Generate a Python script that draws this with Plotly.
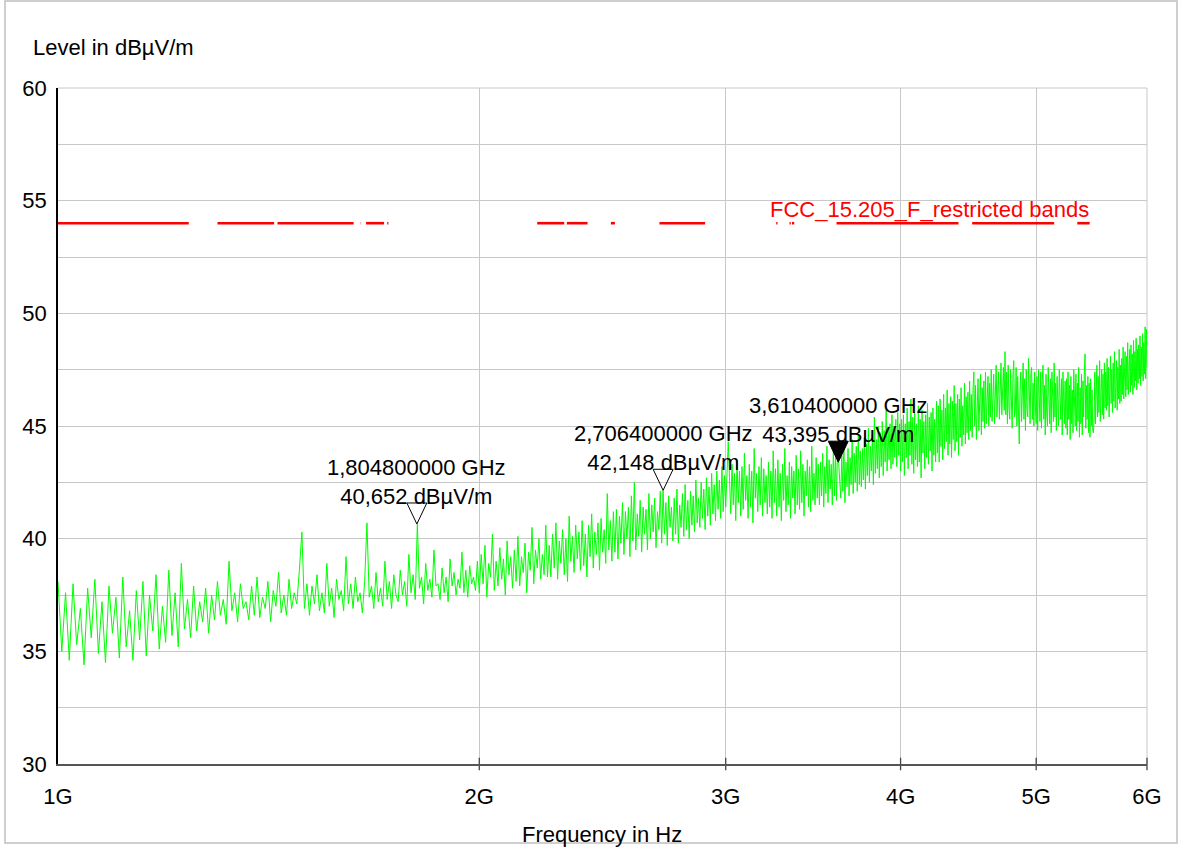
import numpy as np
import plotly.graph_objects as go

# ---------------- data ----------------
# measured level (dBµV/m), linear sweep 1 GHz .. 6 GHz (6.25 MHz step)
level = [
 38.1, 35.0, 37.6, 34.6, 38.0, 35.3, 36.9, 34.4, 37.8, 35.6, 38.2, 34.9, 37.2, 34.5, 37.9, 35.8, 37.4, 34.7, 38.3, 35.2,
 36.8, 34.6, 37.7, 35.5, 38.1, 34.8, 37.5, 35.9, 38.4, 35.1, 37.0, 35.4, 38.6, 35.7, 37.6, 35.2, 38.9, 36.0, 37.3, 35.6,
 37.9, 35.9, 37.2, 36.3, 37.8, 35.8, 37.5, 36.4, 38.1, 36.6, 37.3, 36.2, 39.0, 36.8, 37.6, 36.3, 38.0, 36.9, 37.2, 36.4,
 37.9, 36.6, 38.3, 36.5, 37.4, 36.9, 38.1, 36.3, 37.7, 37.0, 38.5, 36.7, 37.5, 36.6, 38.2, 36.9, 37.6, 37.1, 38.6, 40.3,
 36.9, 38.0, 36.6, 37.9, 37.1, 38.4, 36.8, 37.6, 36.7, 38.9, 37.0, 37.8, 36.5, 38.2, 37.3, 37.7, 36.8, 39.2, 37.1, 38.0,
 36.9, 38.3, 37.2, 37.6, 36.7, 38.1, 40.7, 37.4, 37.9, 36.9, 38.5, 37.2, 37.8, 37.0, 39.0, 37.3, 38.1, 36.9, 38.4, 37.5,
 37.2, 38.6, 37.5, 38.1, 37.0, 39.3, 37.6, 38.4, 37.3, 40.652, 37.8, 38.3, 37.1, 38.9, 37.7, 38.2, 37.4, 39.5, 37.9, 38.0,
 37.3, 38.7, 37.6, 38.3, 37.2, 39.1, 37.9, 38.5, 37.5, 38.2, 37.8, 39.4, 37.6, 38.6, 37.4, 38.8, 38.0, 38.3, 37.7, 39.0,
 37.6, 39.3, 38.0, 39.7, 37.4, 38.9, 38.3, 40.2, 37.7, 39.0, 37.9, 39.6, 38.2, 39.1, 37.5, 39.9, 38.4, 39.2, 37.8, 39.5,
 38.1, 40.1, 37.9, 39.2, 38.5, 39.8, 37.6, 39.4, 38.6, 40.5, 38.0, 39.5, 38.7, 40.0, 38.2, 39.3, 38.4, 40.6, 38.3, 39.7,
 38.3, 40.2, 38.7, 40.7, 38.2, 39.9, 38.9, 40.4, 38.4, 40.0, 38.1, 41.0, 39.0, 40.1, 38.5, 40.6, 39.1, 40.3, 38.6, 40.8,
 38.8, 40.2, 38.3, 40.6, 39.2, 41.1, 38.7, 40.3, 39.3, 40.7, 38.6, 40.9, 39.4, 40.4, 38.9, 42.0, 39.5, 40.8, 39.0, 41.2,
 39.4, 41.3, 39.1, 41.0, 39.8, 41.6, 39.3, 41.2, 40.0, 41.4, 39.2, 41.9, 39.9, 42.5, 39.5, 41.1, 40.1, 41.7, 39.4, 41.4,
 40.2, 41.3, 39.5, 42.0, 40.0, 41.5, 40.3, 41.8, 39.6, 41.2, 40.4, 42.1, 39.8, 42.148, 40.2, 41.6, 39.7, 41.9, 40.5, 41.4,
 39.9, 41.8, 40.2, 42.2, 39.8, 41.5, 40.5, 42.0, 40.1, 42.4, 40.4, 41.7, 40.0, 42.1, 40.6, 41.9, 40.3, 42.6, 40.7, 41.8,
 40.5, 42.5, 40.9, 42.2, 40.4, 42.7, 41.0, 42.3, 40.6, 42.9, 41.1, 42.4, 40.8, 43.0, 41.3, 42.6, 40.9, 43.2, 41.2, 42.8,
 41.4, 43.1, 44.3, 42.7, 41.1, 43.3, 41.5, 42.9, 40.8, 43.5, 41.6, 43.0, 41.0, 43.2, 41.3, 43.8, 41.7, 42.8, 40.9, 43.3,
 41.4, 43.0, 40.7, 44.0, 41.8, 42.9, 41.2, 43.2, 41.5, 43.6, 41.0, 43.1, 41.6, 42.8, 41.1, 43.4, 41.4, 43.0, 40.9, 43.9,
 41.6, 43.1, 41.0, 43.5, 41.4, 42.9, 40.8, 43.3, 41.7, 44.0, 41.2, 42.8, 41.5, 43.4, 40.9, 43.2, 41.8, 43.0, 41.1, 43.7,
 41.5, 43.1, 41.3, 43.9, 41.6, 43.3, 41.0, 43.0, 41.9, 43.5, 41.4, 43.2, 41.2, 44.1, 41.7, 42.9, 41.5, 43.6, 41.8, 43.3,
 41.5, 43.4, 41.9, 43.8, 41.4, 43.2, 42.0, 44.1, 41.6, 43.5, 42.2, 43.3, 41.5, 43.9, 41.9, 43.6, 41.7, 44.2, 43.395, 42.3,
 41.8, 43.7, 42.1, 44.3, 41.6, 43.4, 42.3, 44.0, 41.9, 43.6, 42.4, 44.4, 42.0, 43.8, 42.5, 44.1, 42.1, 44.6, 42.4, 43.9,
 42.3, 44.0, 42.6, 44.5, 42.2, 44.2, 42.8, 44.9, 42.5, 44.1, 43.0, 44.6, 42.4, 45.4, 42.9, 44.4, 43.1, 45.0, 42.7, 44.7,
 43.2, 45.2, 42.8, 44.8, 43.4, 45.7, 43.0, 44.9, 43.5, 45.1, 43.1, 45.5, 43.3, 45.0, 43.6, 45.3, 43.2, 45.6, 43.7, 45.1,
 43.0, 45.3, 43.4, 45.5, 42.8, 45.1, 43.6, 45.8, 43.1, 45.2, 43.7, 46.2, 43.3, 45.4, 42.9, 45.6, 43.5, 45.1, 43.2, 45.9,
 43.4, 45.3, 42.7, 45.7, 43.8, 45.2, 43.1, 45.5, 43.6, 46.0, 43.3, 45.4, 43.9, 45.6, 43.0, 45.8, 43.7, 45.3, 43.4, 46.1,
 43.8, 45.9, 43.4, 46.2, 44.1, 45.7, 43.5, 46.4, 44.0, 45.8, 44.3, 46.6, 43.7, 46.0, 44.2, 46.3, 43.6, 46.1, 44.4, 46.8,
 43.9, 46.0, 44.3, 46.4, 43.7, 46.2, 44.5, 46.7, 44.1, 45.9, 44.6, 46.9, 44.2, 46.3, 44.7, 46.5, 44.4, 47.0, 44.8, 46.4,
 44.5, 46.6, 47.4, 45.0, 46.8, 44.4, 46.3, 47.1, 44.8, 46.4, 47.3, 44.6, 46.7, 45.2, 47.0, 44.9, 47.4, 45.1, 46.5, 47.2,
 45.0, 46.9, 45.4, 47.5, 45.2, 46.7, 47.3, 45.1, 47.0, 47.7, 45.4, 46.8, 47.4, 45.3, 47.1, 47.8, 45.5, 46.9, 47.6, 45.7,
 48.3, 45.5, 47.4, 45.1, 47.7, 45.8, 45.3, 47.5, 46.0, 44.9, 47.3, 47.9, 45.4, 45.7, 47.6, 45.0, 47.2, 44.7, 44.2, 46.6,
 47.4, 45.2, 46.9, 47.8, 45.3, 47.1, 44.8, 47.5, 45.7, 45.4, 48.0, 45.6, 45.1, 47.3, 47.6, 45.3, 46.9, 45.0, 47.4, 45.8,
 45.1, 47.2, 44.8, 47.5, 45.7, 45.2, 47.4, 44.9, 47.0, 47.7, 45.3, 46.8, 44.6, 47.3, 45.5, 45.0, 47.6, 45.9, 45.1, 47.1,
 44.7, 47.4, 45.6, 45.2, 47.8, 45.4, 46.9, 44.8, 47.2, 45.5, 45.0, 47.5, 45.7, 45.3, 47.1, 44.6, 47.4, 45.8, 45.1, 47.0,
 44.9, 47.1, 44.6, 47.4, 45.3, 46.8, 44.4, 47.2, 45.1, 46.6, 44.7, 47.5, 45.5, 45.0, 47.3, 44.8, 46.9, 45.2, 47.6, 44.5,
 46.7, 45.1, 47.3, 44.6, 47.0, 45.4, 47.4, 48.2, 44.9, 46.8, 45.3, 47.2, 44.7, 46.9, 44.5, 47.1, 45.0, 46.6, 44.8, 44.7,
 45.3, 47.4, 45.1, 46.9, 47.7, 45.4, 47.2, 45.6, 47.9, 45.2, 47.0, 47.5, 45.5, 47.3, 45.3, 47.8, 45.8, 47.4, 45.7, 48.0,
 45.9, 47.6, 45.4, 47.3, 48.1, 46.0, 47.5, 45.6, 47.8, 46.1, 48.3, 45.8, 47.4, 47.9, 45.7, 47.6, 46.2, 48.4, 46.0, 47.7,
 46.1, 48.0, 46.4, 48.5, 46.2, 47.8, 48.3, 46.3, 48.1, 46.6, 48.7, 46.4, 47.9, 48.4, 46.5, 48.6, 46.8, 48.2, 46.4, 48.8,
 46.7, 48.3, 47.0, 48.9, 46.6, 48.4, 46.9, 48.6, 47.1, 49.0, 46.8, 48.5, 47.2, 49.1, 47.0, 48.7, 47.3, 49.4, 47.1, 49.3, 47.6,
]
f_start_hz = 1e9
f_stop_hz = 6e9

# FCC 15.205 restricted bands (MHz) and limit level
band_start_mhz = [960, 1300, 1435, 1645.5, 1660, 1718.8, 2200, 2310, 2483.5, 2690, 3260, 3332, 3345.8, 3600, 4500, 5350]
band_stop_mhz = [1240, 1427, 1626.5, 1646.5, 1710, 1722.2, 2300, 2390, 2500, 2900, 3267, 3339, 3358, 4400, 5150, 5460]
limit_level = 54.0
limit_name = "FCC_15.205_F_restricted bands"

# markers
marker_freq_ghz = [1.8048, 2.7064, 3.6104]
marker_level = [40.652, 42.148, 43.395]
marker_filled = [False, False, True]
marker_freq_text = ["1,804800000 GHz", "2,706400000 GHz", "3,610400000 GHz"]
marker_level_text = ["40,652 dBµV/m", "42,148 dBµV/m", "43,395 dBµV/m"]

# axes
x_tick_vals = [1e9, 2e9, 3e9, 4e9, 5e9, 6e9]
x_tick_text = ["1G", "2G", "3G", "4G", "5G", "6G"]
y_tick_vals = [30, 32.5, 35, 37.5, 40, 42.5, 45, 47.5, 50, 52.5, 55, 57.5, 60]
y_tick_text = ["30", "", "35", "", "40", "", "45", "", "50", "", "55", "", "60"]
x_title = "Frequency in Hz"
y_title = "Level in dBµV/m"

# ---------------- figure ----------------
FONT = "Liberation Sans, Arial, sans-serif"
FS = 22
freq = np.linspace(f_start_hz, f_stop_hz, len(level))

lim_x, lim_y = [], []
for a, b in zip(band_start_mhz, band_stop_mhz):
    lim_x += [a * 1e6, b * 1e6, None]
    lim_y += [limit_level, limit_level, None]

fig = go.Figure()
fig.add_trace(go.Scatter(x=freq, y=level, mode="lines",
                         line=dict(color="#00ff00", width=1), hoverinfo="skip"))
fig.add_trace(go.Scatter(x=lim_x, y=lim_y, mode="lines",
                         line=dict(color="#ff0000", width=2.6), hoverinfo="skip"))
# crossing tick marks
fig.add_trace(go.Scatter(x=x_tick_vals, y=[y_tick_vals[0]] * len(x_tick_vals), mode="markers",
                         marker=dict(symbol="line-ns", size=9, line=dict(color="#444", width=1.3)),
                         cliponaxis=False, hoverinfo="skip"))
fig.add_trace(go.Scatter(x=[x_tick_vals[0]] * len(y_tick_vals), y=y_tick_vals, mode="markers",
                         marker=dict(symbol="line-ew", size=9, line=dict(color="#444", width=1.3)),
                         cliponaxis=False, hoverinfo="skip"))

shapes = []
annotations = []
for fg, lv, filled, t1, t2 in zip(marker_freq_ghz, marker_level, marker_filled,
                                 marker_freq_text, marker_level_text):
    shapes.append(dict(type="path", xref="x", yref="y", xsizemode="pixel", ysizemode="pixel",
                       xanchor=fg * 1e9, yanchor=lv, path="M -10,21 L 10,21 L 0,0 Z",
                       line=dict(color="black", width=1),
                       fillcolor="black" if filled else "rgba(0,0,0,0)", layer="above"))
    annotations.append(dict(x=np.log10(fg * 1e9), y=lv, xref="x", yref="y",
                            text=t1 + "<br>" + t2, showarrow=False, xanchor="center",
                            yanchor="bottom", yshift=13, align="center",
                            font=dict(family=FONT, size=FS, color="black")))

annotations.append(dict(x=(768 - 58) / 1089, y=(764 - 209) / 676, xref="paper", yref="paper",
                        text=limit_name, showarrow=False, xanchor="left", yanchor="middle",
                        font=dict(family=FONT, size=FS, color="#ff0000")))
annotations.append(dict(x=-27 / 1089, y=(764 - 47) / 676, xref="paper", yref="paper",
                        text=y_title, showarrow=False, xanchor="left", yanchor="middle",
                        font=dict(family=FONT, size=FS, color="black")))
annotations.append(dict(x=(602 - 58) / 1089, y=(764 - 834) / 676, xref="paper", yref="paper",
                        text=x_title, showarrow=False, xanchor="center", yanchor="middle",
                        font=dict(family=FONT, size=FS, color="black")))

# outer frame and plot border lines (top / right)
shapes.append(dict(type="rect", xref="paper", yref="paper",
                   x0=(5 - 58) / 1089, x1=(1177 - 58) / 1089,
                   y0=(764 - 843) / 676, y1=(764 - 1) / 676,
                   line=dict(color="#c0c0c0", width=1.5), layer="below"))
shapes.append(dict(type="line", xref="paper", yref="paper", x0=0, x1=1, y0=1, y1=1,
                   line=dict(color="#c8c8c8", width=1), layer="below"))
shapes.append(dict(type="line", xref="paper", yref="paper", x0=1, x1=1, y0=0, y1=1,
                   line=dict(color="#c8c8c8", width=1), layer="below"))

fig.update_layout(
    width=1181, height=847,
    margin=dict(l=58, r=34, t=88, b=83),
    paper_bgcolor="white", plot_bgcolor="white",
    showlegend=False,
    font=dict(family=FONT, size=FS, color="black"),
    shapes=shapes, annotations=annotations,
    xaxis=dict(type="log", range=[np.log10(f_start_hz), np.log10(f_stop_hz)],
               tickvals=x_tick_vals, ticktext=x_tick_text, ticks="",
               showgrid=True, gridcolor="#c8c8c8", gridwidth=1,
               showline=True, linecolor="#555555", linewidth=2,
               zeroline=False, ticklabelstandoff=12,
               tickfont=dict(family=FONT, size=FS, color="black")),
    yaxis=dict(range=[30, 60], tickvals=y_tick_vals, ticktext=y_tick_text, ticks="",
               showgrid=True, gridcolor="#c8c8c8", gridwidth=1,
               showline=True, linecolor="black", linewidth=1.5,
               zeroline=False, ticklabelstandoff=5,
               tickfont=dict(family=FONT, size=FS, color="black")),
)

fig.write_html("out.html")
